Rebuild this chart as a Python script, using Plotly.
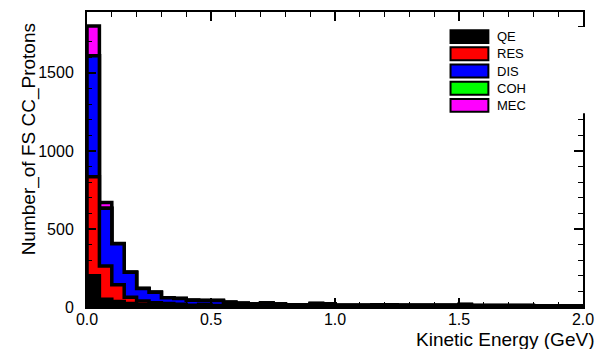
import plotly.graph_objects as go

# ---- data ----
bin_width = 0.05
left_edges = [round(i * bin_width, 2) for i in range(40)]
x_end = 2.0

qe  = [200, 50, 35, 22, 15, 12, 10, 9, 8, 8, 7, 6, 6, 5, 5, 5, 4, 4, 5, 5,
       4, 4, 4, 4, 4, 3, 3, 3, 3, 3, 4, 3, 3, 3, 3, 3, 2, 2, 2, 2]
res = [635, 212, 108, 40, 23, 15, 12, 9, 4, 8, 3, 3, 2, 2, 2, 1, 1, 1, 1, 1,
       1, 1, 1, 1, 1, 1, 1, 1, 1, 1, 1, 1, 1, 1, 1, 1, 1, 0, 0, 0]
dis = [775, 370, 262, 160, 80, 68, 38, 37, 32, 26, 32, 21, 16, 13, 19, 14, 9, 8, 16, 15,
       7, 7, 7, 10, 10, 7, 7, 7, 7, 7, 11, 6, 5, 5, 5, 5, 4, 4, 4, 4]
coh = [0] * 40
mec = [190, 38, 2, 0, 0, 0, 0, 0, 0, 0, 0, 0, 0, 0, 0, 0, 0, 0, 0, 0,
       0, 0, 0, 0, 0, 0, 0, 0, 0, 0, 0, 0, 0, 0, 0, 0, 0, 0, 0, 0]

names  = ["QE", "RES", "DIS", "COH", "MEC"]
series = [qe, res, dis, coh, mec]
colors = ["#000000", "#ff0000", "#0000ff", "#00ff00", "#ff00ff"]

x_ticks = [0.0, 0.5, 1.0, 1.5, 2.0]
y_ticks = [0, 500, 1000, 1500]
y_max = 1890

FONT = "Liberation Sans, Arial, Helvetica, sans-serif"

# ---- layout geometry (pixels) ----
W, H = 604, 349
L, R, T, B = 87, 19, 10, 42
pw, ph = W - L - R, H - T - B


def px(xp):
    return (xp - L) / pw


def py(yp):
    return (H - B - yp) / ph


# cumulative stacks
cums = []
run = [0] * 40
for s in series:
    run = [a + b for a, b in zip(run, s)]
    cums.append(run)

fig = go.Figure()
# draw from the top of the stack downwards
for name, cum, col in reversed(list(zip(names, cums, colors))):
    xs = [0.0] + left_edges + [x_end]
    ys = [0] + cum + [0]
    fig.add_trace(go.Scatter(
        x=xs, y=ys, mode="lines", line=dict(shape="hv", color="black", width=3.5),
        fill="tozeroy", fillcolor=col, name=name, showlegend=False,
        hoverinfo="skip"))

axis_common = dict(
    showgrid=False, zeroline=False, showline=True, linecolor="black", linewidth=2,
    mirror="ticks", ticks="inside", tickcolor="black", tickwidth=1.5,
    tickfont=dict(family=FONT, size=16, color="black"),
)
fig.update_xaxes(range=[0, 2.0], tickvals=x_ticks, tickformat=".1f", ticklen=9,
                 minor=dict(dtick=0.1, ticklen=5, ticks="inside", tickcolor="black", tickwidth=1.2),
                 ticklabelstandoff=-3, **axis_common)
fig.update_yaxes(range=[0, y_max], tickvals=y_ticks, ticklen=9,
                 minor=dict(dtick=100, ticklen=5, ticks="inside", tickcolor="black", tickwidth=1.2),
                 ticklabelstandoff=8, **axis_common)

shapes = []
annotations = []
# legend background (covers right-frame ticks like the original)
shapes.append(dict(type="rect", xref="paper", yref="paper", layer="above",
                   x0=px(440), x1=px(590), y0=py(112), y1=py(25),
                   fillcolor="white", line=dict(width=0)))
row_top = 28.3
for i, (name, col) in enumerate(zip(names, colors)):
    top = row_top + i * 17.3
    shapes.append(dict(type="rect", xref="paper", yref="paper", layer="above",
                       x0=px(452), x1=px(490), y0=py(top + 13), y1=py(top),
                       fillcolor=col, line=dict(color="black", width=2)))
    annotations.append(dict(xref="paper", yref="paper", x=px(497), y=py(top + 6.5),
                            text=name, showarrow=False, xanchor="left", yanchor="middle",
                            font=dict(family=FONT, size=13, color="black")))

annotations.append(dict(xref="paper", yref="paper", x=px(598), y=py(340),
                        text="Kinetic Energy (GeV)", showarrow=False,
                        xanchor="right", yanchor="middle",
                        font=dict(family=FONT, size=19, color="black")))
annotations.append(dict(xref="paper", yref="paper", x=px(29), y=py(138),
                        text="Number_of FS CC_Protons", showarrow=False, textangle=-90,
                        xanchor="center", yanchor="middle",
                        font=dict(family=FONT, size=19, color="black")))

fig.update_layout(
    width=W, height=H, margin=dict(l=L, r=R, t=T, b=B),
    paper_bgcolor="white", plot_bgcolor="white",
    shapes=shapes, annotations=annotations, showlegend=False,
)

fig.write_html("out.html")
